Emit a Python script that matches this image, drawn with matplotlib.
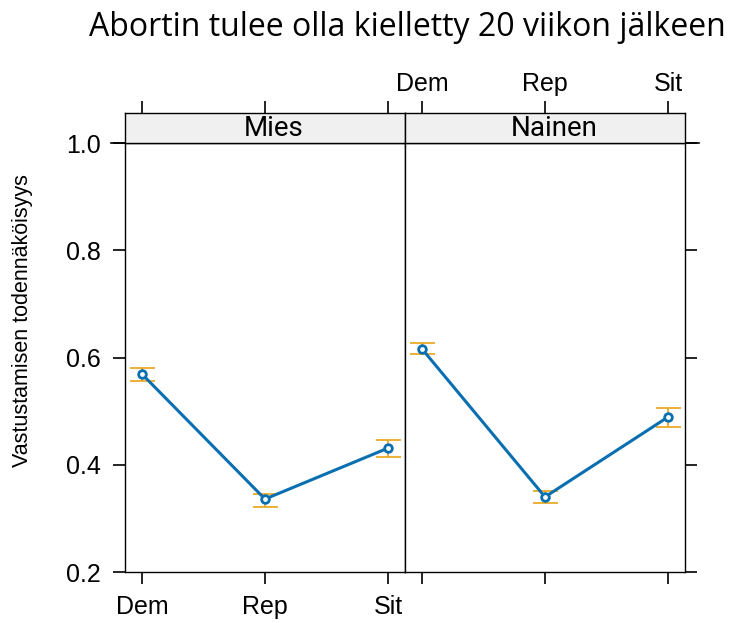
import numpy as np
import matplotlib.pyplot as plt

plt.rcParams['font.family'] = ['Liberation Sans', 'DejaVu Sans']

parties = ["Dem", "Rep", "Sit"]
panels = ["Mies", "Nainen"]
fit = {"Mies": [0.569, 0.336, 0.431], "Nainen": [0.616, 0.340, 0.489]}
lower = {"Mies": [0.556, 0.321, 0.414], "Nainen": [0.606, 0.329, 0.470]}
upper = {"Mies": [0.580, 0.345, 0.446], "Nainen": [0.627, 0.351, 0.506]}
yticks = [0.2, 0.4, 0.6, 0.8, 1.0]

W, H = 734, 623
fig = plt.figure(figsize=(W / 100, H / 100), dpi=100)

line_col = "#0a6fb0"
err_col = "#e8a317"
x = np.arange(1, 4)
tlen = 8.3

for i, name in enumerate(panels):
    left = (125 + 280 * i) / W
    ax = fig.add_axes([left, 1 - 572 / H, 280 / W, 429 / H])
    strip = fig.add_axes([left, 1 - 143 / H, 280 / W, 30 / H])

    y = np.array(fit[name])
    yerr = [y - np.array(lower[name]), np.array(upper[name]) - y]
    ax.errorbar(x, y, yerr=yerr, fmt="none", ecolor=err_col, elinewidth=1.2,
                capsize=9, capthick=1.2, zorder=2)
    ax.plot(x, y, color=line_col, lw=2.2, marker="o", ms=5.5,
            mfc="white", mec=line_col, mew=2, zorder=3)

    ax.set_xlim(1 - 17 / 123, 3 + 17 / 123)
    ax.set_ylim(0.2, 1.0)
    ax.set_xticks(x)
    ax.set_yticks(yticks)
    ax.set_yticklabels([f"{v:.1f}" for v in yticks])
    ax.tick_params(direction="out", length=tlen, width=1.2, labelsize=18)
    ax.tick_params(axis="x", pad=8)
    ax.tick_params(axis="y", pad=9)
    if i == 0:
        ax.set_xticklabels(parties)
        ax.tick_params(axis="y", left=True, labelleft=True, right=False)
    else:
        ax.set_xticklabels([])
        ax.tick_params(axis="y", left=False, labelleft=False, right=True,
                       labelright=False)
    for s in ax.spines.values():
        s.set_linewidth(1.0)

    strip.set_facecolor("#f0f0f0")
    strip.set_xlim(ax.get_xlim())
    strip.set_ylim(0, 1)
    strip.set_yticks([])
    strip.set_xticks(x)
    strip.tick_params(axis="x", top=True, bottom=False, labelbottom=False,
                      direction="out", length=tlen, width=1.2, labelsize=18,
                      pad=4)
    if i == 1:
        strip.set_xticklabels(parties)
        strip.tick_params(axis="x", labeltop=True)
    else:
        strip.tick_params(axis="x", labeltop=False)
    strip.text(0.5 + 9 / 280, 0.47, name, transform=strip.transAxes,
               ha="center", va="center", fontsize=20, family="Roboto")
    for s in strip.spines.values():
        s.set_linewidth(1.0)
    # extend the 1.0 tick beyond panel edge
    if i == 0:
        ax.plot([-0.05, 0], [1, 1], transform=ax.transAxes, color="black",
                lw=1.2, clip_on=False)
    else:
        ax.plot([1, 1.05], [1, 1], transform=ax.transAxes, color="black",
                lw=1.2, clip_on=False)

fig.text(23 / W, 1 - 321 / H, "Vastustamisen todennäköisyys", rotation=90,
         ha="center", va="center", fontsize=15.5)
fig.text(407 / W, 1 - 28 / H, "Abortin tulee olla kielletty 20 viikon jälkeen",
         ha="center", va="center", fontsize=23, family="Open Sans")

fig.savefig("out.png", dpi=100)
